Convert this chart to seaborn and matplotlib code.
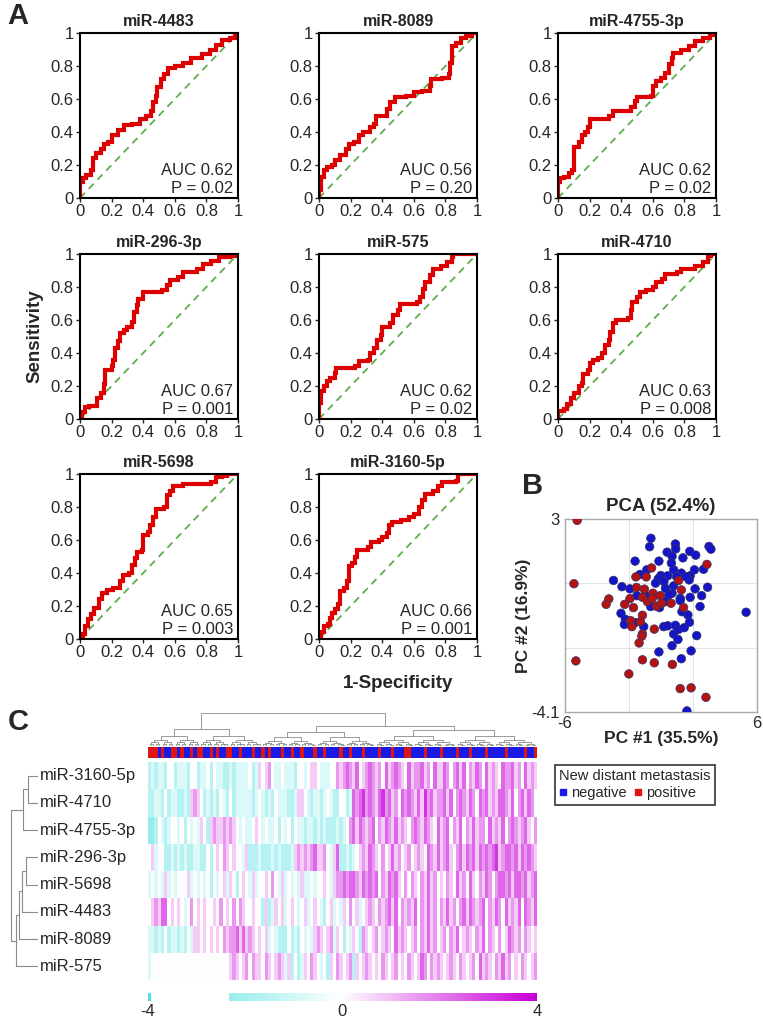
import numpy as np
import pandas as pd
import matplotlib
matplotlib.use('Agg')
import matplotlib.pyplot as plt
import matplotlib.transforms as mtrans
import seaborn as sns
from matplotlib.colors import LinearSegmentedColormap, ListedColormap
from matplotlib.lines import Line2D

sns.set_style('white')
plt.rcParams['font.family'] = ['Liberation Sans', 'DejaVu Sans']

W, H = 763, 1019

# ---------------- Panel A: ROC data ----------------
ROC_TITLES = ['miR-4483', 'miR-8089', 'miR-4755-3p', 'miR-296-3p', 'miR-575',
              'miR-4710', 'miR-5698', 'miR-3160-5p']
ROC_AUC = ['0.62', '0.56', '0.62', '0.67', '0.62', '0.63', '0.65', '0.66']
ROC_P = ['0.02', '0.20', '0.02', '0.001', '0.02', '0.008', '0.003', '0.001']

ROC_4483 = [(0, 0), (0, 0.10), (0.02, 0.12), (0.04, 0.14), (0.07, 0.17), (0.08, 0.24), (0.10, 0.27),
            (0.13, 0.30), (0.15, 0.33), (0.18, 0.34), (0.20, 0.38), (0.24, 0.41), (0.28, 0.44),
            (0.33, 0.45), (0.38, 0.48), (0.42, 0.50), (0.45, 0.53), (0.46, 0.58), (0.48, 0.62),
            (0.49, 0.67), (0.51, 0.72), (0.53, 0.75), (0.56, 0.79), (0.60, 0.80), (0.65, 0.82),
            (0.70, 0.85), (0.77, 0.87), (0.82, 0.90), (0.86, 0.93), (0.90, 0.96), (0.95, 0.97),
            (0.98, 0.99), (1, 1)]
ROC_8089 = [(0, 0), (0, 0.05), (0.01, 0.13), (0.03, 0.17), (0.05, 0.19), (0.08, 0.20), (0.10, 0.23),
            (0.13, 0.26), (0.17, 0.30), (0.19, 0.33), (0.22, 0.34), (0.25, 0.38), (0.28, 0.40),
            (0.32, 0.43), (0.35, 0.45), (0.36, 0.50), (0.41, 0.50), (0.43, 0.54), (0.45, 0.58),
            (0.48, 0.61), (0.55, 0.62), (0.60, 0.64), (0.65, 0.65), (0.70, 0.68), (0.71, 0.72),
            (0.78, 0.73), (0.82, 0.75), (0.83, 0.82), (0.84, 0.92), (0.87, 0.94), (0.90, 0.97),
            (0.93, 0.98), (0.97, 1.0), (1, 1)]
ROC_4755 = [(0, 0), (0, 0.10), (0.01, 0.12), (0.04, 0.13), (0.07, 0.15), (0.09, 0.17), (0.10, 0.31),
            (0.13, 0.34), (0.15, 0.38), (0.17, 0.40), (0.19, 0.43), (0.20, 0.48), (0.32, 0.50),
            (0.35, 0.53), (0.46, 0.55), (0.49, 0.59), (0.50, 0.61), (0.59, 0.62), (0.60, 0.68),
            (0.62, 0.71), (0.65, 0.73), (0.68, 0.76), (0.70, 0.81), (0.72, 0.85), (0.73, 0.88),
            (0.78, 0.90), (0.83, 0.92), (0.87, 0.95), (0.92, 0.97), (0.96, 0.99), (1, 1)]
ROC_296 = [(0, 0), (0.01, 0.04), (0.03, 0.07), (0.06, 0.08), (0.10, 0.08), (0.11, 0.13), (0.13, 0.16),
           (0.15, 0.21), (0.16, 0.30), (0.20, 0.32), (0.21, 0.36), (0.22, 0.43), (0.24, 0.47),
           (0.25, 0.52), (0.28, 0.54), (0.30, 0.56), (0.33, 0.59), (0.34, 0.65), (0.36, 0.69),
           (0.37, 0.73), (0.40, 0.77), (0.52, 0.78), (0.55, 0.81), (0.57, 0.84), (0.62, 0.86),
           (0.65, 0.89), (0.74, 0.91), (0.78, 0.94), (0.83, 0.96), (0.88, 0.98), (0.95, 0.99), (1, 1)]
ROC_575 = [(0, 0), (0, 0.10), (0.01, 0.17), (0.03, 0.20), (0.05, 0.23), (0.07, 0.25), (0.10, 0.28),
           (0.11, 0.31), (0.23, 0.32), (0.25, 0.35), (0.31, 0.36), (0.32, 0.40), (0.35, 0.43),
           (0.37, 0.48), (0.39, 0.51), (0.40, 0.56), (0.45, 0.58), (0.47, 0.63), (0.50, 0.66),
           (0.51, 0.70), (0.62, 0.71), (0.64, 0.74), (0.66, 0.79), (0.67, 0.83), (0.70, 0.87),
           (0.72, 0.91), (0.77, 0.93), (0.81, 0.95), (0.84, 0.98), (0.85, 1.0), (1, 1)]
ROC_4710 = [(0, 0), (0, 0.05), (0.04, 0.06), (0.06, 0.09), (0.08, 0.13), (0.10, 0.16), (0.13, 0.20),
            (0.15, 0.22), (0.16, 0.27), (0.19, 0.30), (0.20, 0.34), (0.22, 0.36), (0.25, 0.37),
            (0.28, 0.40), (0.30, 0.45), (0.32, 0.48), (0.33, 0.53), (0.35, 0.58), (0.37, 0.60),
            (0.44, 0.61), (0.46, 0.66), (0.47, 0.71), (0.50, 0.74), (0.52, 0.77), (0.56, 0.78),
            (0.60, 0.80), (0.62, 0.83), (0.66, 0.85), (0.68, 0.88), (0.75, 0.89), (0.78, 0.91),
            (0.87, 0.93), (0.92, 0.95), (0.95, 0.99), (0.97, 1.0), (1, 1)]
ROC_5698 = [(0, 0), (0.02, 0.03), (0.03, 0.08), (0.05, 0.12), (0.07, 0.15), (0.09, 0.19), (0.12, 0.24),
            (0.14, 0.28), (0.17, 0.30), (0.21, 0.31), (0.25, 0.35), (0.27, 0.39), (0.31, 0.40),
            (0.33, 0.45), (0.35, 0.49), (0.36, 0.53), (0.39, 0.54), (0.40, 0.63), (0.43, 0.65),
            (0.44, 0.69), (0.46, 0.74), (0.48, 0.79), (0.53, 0.80), (0.55, 0.87), (0.57, 0.90),
            (0.59, 0.93), (0.65, 0.94), (0.83, 0.95), (0.86, 0.98), (0.90, 0.99), (0.93, 1.0), (1, 1)]
ROC_3160 = [(0, 0), (0.01, 0.04), (0.03, 0.08), (0.06, 0.09), (0.07, 0.13), (0.08, 0.16), (0.10, 0.18),
            (0.12, 0.21), (0.13, 0.29), (0.16, 0.31), (0.18, 0.35), (0.19, 0.44), (0.21, 0.46),
            (0.23, 0.50), (0.24, 0.54), (0.31, 0.56), (0.33, 0.59), (0.38, 0.60), (0.40, 0.62),
            (0.43, 0.64), (0.44, 0.69), (0.46, 0.71), (0.52, 0.72), (0.57, 0.74), (0.60, 0.76),
            (0.63, 0.80), (0.65, 0.84), (0.67, 0.88), (0.72, 0.90), (0.75, 0.93), (0.78, 0.95),
            (0.87, 0.96), (0.88, 1.0), (1, 1)]
ROC_CURVES = [ROC_4483, ROC_8089, ROC_4755, ROC_296, ROC_575, ROC_4710, ROC_5698, ROC_3160]

TICKS = [0, 0.2, 0.4, 0.6, 0.8, 1]
TICK_LABELS = ['0', '0.2', '0.4', '0.6', '0.8', '1']

# ---------------- Panel B: PCA data ----------------
PCA_NEG = [(-0.63, 2.29), (-0.71, 1.98), (-1.62, 1.45), (-0.89, 1.13), (-1.31, 0.96), (-0.13, 1.45),
           (0.38, 1.78), (0.90, 2.08), (0.92, 1.90), (0.69, 1.63), (1.37, 1.57), (1.80, 1.81),
           (2.17, 1.67), (3.00, 1.99), (3.12, 1.89), (2.09, 1.13), (1.82, 0.91), (1.76, 0.76),
           (0.79, 1.13), (0.65, 1.38), (0.42, 0.91), (-0.01, 0.92), (-0.17, 0.80), (-0.34, 0.64),
           (0.18, 0.70), (0.28, 0.45), (0.79, 0.54), (0.69, 0.27), (1.20, 0.08), (2.13, 0.43),
           (2.54, 0.18), (2.91, 0.49), (1.82, 0.12), (-2.97, 0.74), (-2.44, 0.51), (-1.94, 0.43),
           (-2.50, -0.47), (-2.23, -0.69), (-2.29, -0.88), (-1.92, -0.88), (-1.62, -0.81),
           (-1.08, -0.96), (-1.51, 0.18), (-0.99, 0.21), (-0.65, -0.22), (-0.09, -0.26),
           (0.28, -0.04), (0.49, 0.21), (0.17, -0.96), (0.42, -0.93), (0.90, -0.91), (0.79, -1.23),
           (1.10, -1.06), (1.45, -1.00), (1.68, -0.53), (1.31, -0.41), (1.20, 0.00), (1.78, -0.80),
           (2.23, -1.29), (2.44, -0.22), (0.69, -1.66), (1.06, -1.43), (-0.13, -1.89), (1.88, -1.85),
           (1.27, -2.14), (1.62, -4.06), (5.32, -0.43), (2.66, 1.15), (1.27, 1.01), (1.55, 0.88),
           (0.97, 0.88)]
PCA_POS = [(-5.24, 2.95), (-5.44, 0.62), (-5.32, -2.22), (-3.26, 0.06), (-3.43, -0.14), (-2.01, -2.70),
           (-1.16, -2.18), (-0.42, -2.29), (0.71, -2.35), (1.20, -3.24), (1.88, -3.21), (2.81, -3.56),
           (2.87, 1.33), (-0.59, 1.20), (-1.57, 0.87), (-1.53, 0.48), (-1.04, 0.42), (-0.50, 0.27),
           (-1.94, 0.07), (-2.27, -0.14), (-1.72, -0.26), (-1.16, 0.12), (-0.85, -0.04), (-0.54, 0.08),
           (-0.28, -0.21), (-0.05, 0.18), (0.03, -0.10), (0.63, -0.10), (-1.16, -0.54), (-1.29, -0.78),
           (-1.90, -0.74), (-1.82, -0.96), (-1.16, -1.23), (-1.20, -1.31), (-1.37, -1.56),
           (-0.42, -1.05), (1.41, -0.26), (1.27, 0.39), (1.10, 0.74), (-0.92, 0.87)]

# ---------------- Panel C: heatmap data ----------------
HM_LABELS = ['miR-3160-5p', 'miR-4710', 'miR-4755-3p', 'miR-296-3p', 'miR-5698',
             'miR-4483', 'miR-8089', 'miR-575']
# each digit d encodes a z-score level; z = (d - 4) * HM_SCALE
HM_SCALE = 0.8
HM_3160 = ("2323324423 3324423342 4332232333 3423545643 3433324434 5543334465 "
           "6765745676 5647567654 7566756475 5764675746 5764756547 6675647565")
HM_4710 = ("2233242332 2325654232 3243242333 3323432324 3332235543 2332343224 "
           "4237678676 5786756476 7657586756 6757467657 6476756577 6574675764")
HM_4755 = ("1124323443 4243435425 6556565434 3345434334 2434243323 3232322232 "
           "3467576567 4657657565 4676576547 5674657465 7566475657 4676567546")
HM_296 = ("4534422323 2322332242 4546545443 5222322232 3222356565 6755643572 "
          "2323456576 5464575645 6456547657 5675467576 7576767856 7767576765")
HM_5698 = ("3434353434 4453434342 4345354245 4353445464 3534343533 4344543566 "
           "7677657676 7465767546 4654657564 5465475647 5465764677 6757767567")
HM_4483 = ("4565774545 4346454544 5464546465 4454425235 4534543453 4543245343 "
           "5464534565 4656757465 6574657564 6575646757 6567465764 7565747657")
HM_8089 = ("3323242332 3243554545 4546566757 5654545343 2224232434 3565456354 "
           "2435426545 6456547565 4564657564 5646574565 4657465464 5765646545")
HM_575 = ("3444444444 4444444444 4444456545 6465546545 6535242354 6543425465 "
          "4562545654 5465456454 6545764656 5456546545 6475654657 5645465456")
HM_ROWS = [HM_3160, HM_4710, HM_4755, HM_296, HM_5698, HM_4483, HM_8089, HM_575]
# sample class: r = positive, b = negative
HM_CLASS = ("rrrbrbbrrbrbbrbrrbbrbrbbrrbbrb" "bbrbbrbrbbbrbbrbbrbbbrbbrbbbbr"
            "bbrbbbrbbbbrbbbrbbbrrbbbbrbbbb" "rbbbbrbbbrbbbbrbbbbbrbbbbbrbbr")
# row dendrogram: (child a, child b, height); new node ids start at 8
ROW_LINK = [(0, 1, 0.35), (8, 2, 0.55), (3, 4, 0.45), (10, 5, 0.60), (11, 6, 0.70),
            (12, 7, 0.80), (9, 13, 1.0)]
# column dendrogram top-level splits: (lo, hi) -> (split, height)
COL_SPLITS = {(0, 120): (35, 1.0), (0, 35): (16, 0.50), (35, 120): (70, 0.62),
              (35, 70): (52, 0.42), (70, 120): (95, 0.48)}
COL_DECAY = 0.62

fig = plt.figure(figsize=(W / 100, H / 100), dpi=100)


def add_ax(x0, y0, x1, y1):
    return fig.add_axes([x0 / W, 1 - y1 / H, (x1 - x0) / W, (y1 - y0) / H])


# ---------------- ROC panels ----------------
cols = [(80, 238), (319, 477), (558, 716)]
rows = [(33, 198), (254, 419), (474, 639)]
RED = '#DD0000'
GREEN = '#5DAE4C'
for k, (title, pts, auc, p) in enumerate(zip(ROC_TITLES, ROC_CURVES, ROC_AUC, ROC_P)):
    r, c = divmod(k, 3)
    ax = add_ax(cols[c][0], rows[r][0], cols[c][1], rows[r][1])
    df = pd.DataFrame(pts, columns=['fpr', 'tpr'])
    sns.lineplot(x=[0, 1], y=[0, 1], ax=ax, color=GREEN, linestyle=(0, (4, 3)), lw=1.3)
    sns.lineplot(data=df, x='fpr', y='tpr', ax=ax, sort=False, estimator=None,
                 color=RED, lw=3.0, drawstyle='steps-post', solid_joinstyle='miter')
    ax.set_xlim(0, 1)
    ax.set_ylim(0, 1)
    ax.set_xticks(TICKS)
    ax.set_xticklabels(TICK_LABELS)
    ax.set_yticks(TICKS)
    ax.set_yticklabels(TICK_LABELS)
    ax.tick_params(left=True, bottom=True, length=3, width=1, labelsize=12, pad=1.5)
    ax.set_xlabel('')
    ax.set_ylabel('')
    for s in ax.spines.values():
        s.set_linewidth(1.5)
        s.set_color('black')
    ax.set_title(title, fontsize=11.5, fontweight='bold', pad=5)
    ax.text(0.97, 0.165, f'AUC {auc}', ha='right', va='center', fontsize=12, transform=ax.transAxes)
    ax.text(0.97, 0.06, f'P = {p}', ha='right', va='center', fontsize=12, transform=ax.transAxes)

fig.text(35 / W, 1 - 336 / H, 'Sensitivity', rotation=90, fontsize=13.5, fontweight='bold',
         ha='center', va='center')
fig.text(398 / W, 1 - 683 / H, '1-Specificity', fontsize=13.5, fontweight='bold',
         ha='center', va='center')

# ---------------- PCA panel ----------------
axp = add_ax(565, 519, 757, 712)
pca = pd.DataFrame(PCA_NEG + PCA_POS, columns=['pc1', 'pc2'])
pca['status'] = ['negative'] * len(PCA_NEG) + ['positive'] * len(PCA_POS)
axp.set_xticks([-2, 2], minor=True)
axp.set_yticks([-4.1 + 7.1 / 3, -4.1 + 14.2 / 3], minor=True)
axp.grid(which='minor', color='#E2E2E2', lw=0.8)
axp.set_axisbelow(True)
sns.scatterplot(data=pca, x='pc1', y='pc2', hue='status', ax=axp,
                palette={'negative': '#1414C8', 'positive': '#B51212'},
                s=38, edgecolor='#333366', linewidth=0.5, legend=False, zorder=3)
axp.set_xlim(-6, 6)
axp.set_ylim(-4.1, 3)
axp.set_xticks([-6, 6])
axp.set_xticklabels(['-6', '6'])
axp.set_yticks([-4.1, 3])
axp.set_yticklabels(['-4.1', '3'])
axp.tick_params(axis='x', labelsize=12, length=0, pad=3)
axp.tick_params(axis='y', labelsize=12, length=0, pad=4)
for s in axp.spines.values():
    s.set_color('#A8A8A8')
    s.set_linewidth(1.0)
axp.set_xlabel('PC #1 (35.5%)', fontsize=12.5, fontweight='bold', labelpad=0)
axp.set_ylabel('PC #2 (16.9%)', fontsize=12.5, fontweight='bold', labelpad=0)
axp.set_title('PCA (52.4%)', fontsize=13.5, fontweight='bold', pad=6)

# ---------------- Heatmap ----------------
cmap = LinearSegmentedColormap.from_list('cw', [(0, '#4DE0E0'), (0.5, '#FFFFFF'), (1, '#C800D8')])
hm = np.array([[(int(ch) - 4) * HM_SCALE for ch in s.replace(' ', '')] for s in HM_ROWS], dtype=float)
N = hm.shape[1]
axh = add_ax(148, 762, 537, 980)
sns.heatmap(hm, ax=axh, cmap=cmap, vmin=-4, vmax=4, cbar=False,
            xticklabels=False, yticklabels=False)
tr = mtrans.blended_transform_factory(fig.transFigure, axh.transData)
for i, lab in enumerate(HM_LABELS):
    axh.text(40 / W, i + 0.5, lab, transform=tr, ha='left', va='center', fontsize=12)

# class bar
cls = np.array([[1 if ch == 'r' else 0 for ch in HM_CLASS]])
axc = add_ax(148, 747, 537, 758)
sns.heatmap(cls, ax=axc, cmap=ListedColormap(['#1A1AE6', '#E01414']), vmin=0, vmax=1,
            cbar=False, xticklabels=False, yticklabels=False)

# column dendrogram
axd = add_ax(148, 712, 537, 746)
DCOL = '#8A8A8A'


def draw_tree(ax, lo, hi, h):
    if hi - lo == 1:
        return lo + 0.5, 0.0
    s, hh = COL_SPLITS.get((lo, hi), ((lo + hi) // 2, h))
    lx, lh = draw_tree(ax, lo, s, hh * COL_DECAY)
    rx, rh = draw_tree(ax, s, hi, hh * COL_DECAY)
    ax.plot([lx, lx, rx, rx], [lh, hh, hh, rh], color=DCOL, lw=0.6)
    return (lx + rx) / 2, hh


draw_tree(axd, 0, N, 1.0)
axd.set_xlim(0, N)
axd.set_ylim(0, 1.03)
axd.axis('off')

# row dendrogram
axl = add_ax(10, 762, 38, 980)
pos = {i: (0.0, i + 0.5) for i in range(len(HM_LABELS))}
nid = len(HM_LABELS)
for a, b, h in ROW_LINK:
    (ha_, ya), (hb, yb) = pos[a], pos[b]
    axl.plot([ha_, h, h, hb], [ya, ya, yb, yb], color=DCOL, lw=0.8)
    pos[nid] = (h, (ya + yb) / 2)
    nid += 1
axl.set_xlim(1.02, 0)
axl.set_ylim(len(HM_LABELS), 0)
axl.axis('off')

# colour key
CBAR_STEP = 0.0625
cvals = np.arange(-4, 4 + 1e-9, CBAR_STEP)
cvals_m = np.where((cvals > -3.95) & (cvals < -2.33), np.nan, cvals)
axk = add_ax(148, 993, 537, 1001)
sns.heatmap(cvals_m[None, :], ax=axk, cmap=cmap, vmin=-4, vmax=4, cbar=False,
            xticklabels=False, yticklabels=False)
for v, lab in [(-4, '-4'), (0, '0'), (4, '4')]:
    xx = 148 + (v + 4) / 8 * 389
    fig.text(xx / W, 1 - 1012 / H, lab, ha='center', va='center', fontsize=12)

# legend
handles = [Line2D([], [], marker='s', ls='', color='#1A1AE6', ms=4, label='negative'),
           Line2D([], [], marker='s', ls='', color='#E01414', ms=4, label='positive')]
leg = fig.legend(handles=handles, title='New distant metastasis', loc='upper left',
                 bbox_to_anchor=(555 / W, 1 - 765 / H), ncol=2, frameon=True, fontsize=10.5,
                 title_fontsize=10.5, handlelength=0.5, handletextpad=0.3, columnspacing=0.5,
                 borderpad=0.3, labelspacing=0.2, alignment='left', fancybox=False, borderaxespad=0)
leg.get_frame().set_edgecolor('black')
leg.get_frame().set_linewidth(1.2)

# panel letters
fig.text(18 / W, 1 - 16 / H, 'A', fontsize=21, fontweight='bold', ha='center', va='center')
fig.text(533 / W, 1 - 486 / H, 'B', fontsize=21, fontweight='bold', ha='center', va='center')
fig.text(18 / W, 1 - 722 / H, 'C', fontsize=21, fontweight='bold', ha='center', va='center')

fig.savefig('out.png', dpi=100)
